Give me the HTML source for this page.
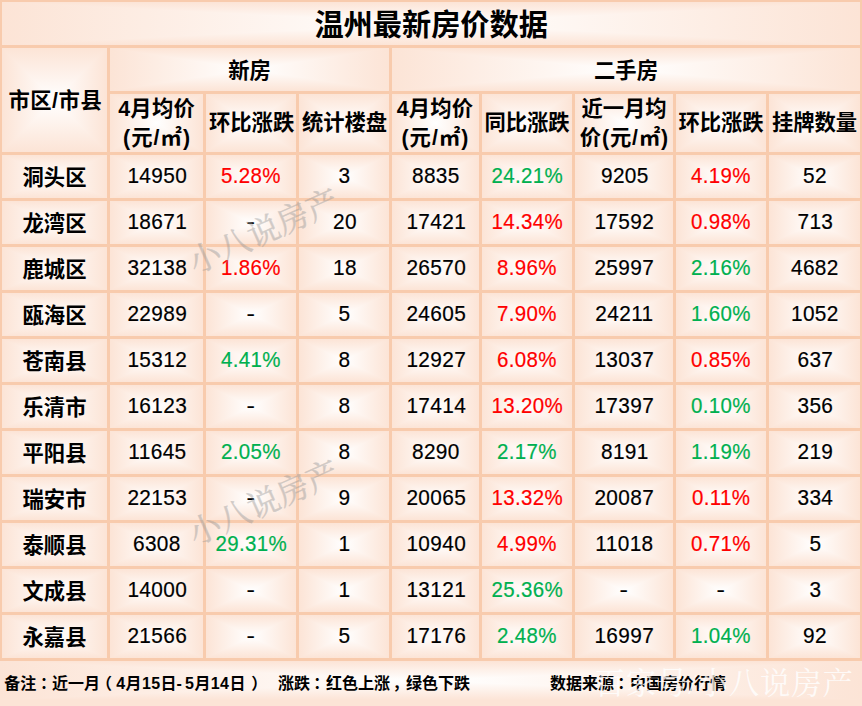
<!DOCTYPE html>
<html lang="zh-CN">
<head>
<meta charset="utf-8">
<title>温州最新房价数据</title>
<style>
html,body{margin:0;padding:0;background:#fce4d6;}
body{width:862px;height:706px;overflow:hidden;position:relative;font-family:"Liberation Sans",sans-serif;}
#sheet{position:absolute;left:0;top:0;width:862px;height:706px;overflow:hidden;background:#f8cbad;}
table{position:absolute;left:-1px;top:-1px;width:864px;border-collapse:separate;border-spacing:3px;table-layout:fixed;margin:0;}
td,th{position:relative;padding:0;height:43px;overflow:hidden;text-align:center;vertical-align:middle;white-space:nowrap;font-weight:normal;
  background:linear-gradient(to bottom,#fce4d6 0%,#fff 50%,#fce4d6 100%);}
td::before,th::before,#foot::before{content:"";position:absolute;left:0;top:0;right:0;bottom:0;
  background:linear-gradient(to right,#fce4d6 0%,#fff 50%,#fce4d6 100%);
  clip-path:polygon(0 0,50% 50%,100% 0,100% 100%,50% 50%,0 100%);}
tr.h3 th{height:58px;}
.z{color:transparent;font-size:12px;line-height:14px;}
.z span{display:block;}
.n{font-size:22.5px;line-height:30px;color:#000;-webkit-text-stroke:.2px;}
.n i{font-style:normal;position:relative;left:.6px;top:-.1px;display:inline-block;transform:scaleX(.925);letter-spacing:.4px;}
.d i{left:0;transform:scaleX(1.12);}
.r i{color:#ff0000;left:-.1px;transform:scaleX(.91);}
.g i{color:#00b050;left:-.1px;transform:scaleX(.91);}
#foot{position:absolute;left:0;top:661px;width:862px;height:45px;overflow:hidden;margin:0;
  background:linear-gradient(to bottom,#fce4d6 0,#fff 19.5px,#fce4d6 39px,#fce4d6 100%);}
#foot::before{bottom:6px;}
#foot span{position:relative;}
#ink{position:absolute;left:0;top:0;width:862px;height:706px;pointer-events:none;}
#ink text{font-family:"Liberation Sans","Noto Sans CJK SC",sans-serif;}
#ink .wm text{font-family:"Liberation Serif","Noto Serif CJK SC",serif;}
</style>
</head>
<body>
<div id="sheet">
<table>
<colgroup><col style="width:105px"><col style="width:93px"><col style="width:90px"><col style="width:90px"><col style="width:87px"><col style="width:90px"><col style="width:98px"><col style="width:90px"><col style="width:91px"></colgroup>
<thead>
<tr><th colspan="9" class="z">温州最新房价数据</th></tr>
<tr><th rowspan="2" class="z">市区/市县</th><th colspan="3" class="z">新房</th><th colspan="5" class="z">二手房</th></tr>
<tr class="h3"><th class="z"><span>4月均价</span><span>(元/㎡)</span></th><th class="z">环比涨跌</th><th class="z">统计楼盘</th><th class="z"><span>4月均价</span><span>(元/㎡)</span></th><th class="z">同比涨跌</th><th class="z"><span>近一月均</span><span>价(元/㎡)</span></th><th class="z">环比涨跌</th><th class="z">挂牌数量</th></tr>
</thead>
<tbody>
<tr><th class="z">洞头区</th><td class="n"><i>14950</i></td><td class="n r"><i>5.28%</i></td><td class="n"><i>3</i></td><td class="n"><i>8835</i></td><td class="n g"><i>24.21%</i></td><td class="n"><i>9205</i></td><td class="n r"><i>4.19%</i></td><td class="n"><i>52</i></td></tr>
<tr><th class="z">龙湾区</th><td class="n"><i>18671</i></td><td class="n d"><i>-</i></td><td class="n"><i>20</i></td><td class="n"><i>17421</i></td><td class="n r"><i>14.34%</i></td><td class="n"><i>17592</i></td><td class="n r"><i>0.98%</i></td><td class="n"><i>713</i></td></tr>
<tr><th class="z">鹿城区</th><td class="n"><i>32138</i></td><td class="n r"><i>1.86%</i></td><td class="n"><i>18</i></td><td class="n"><i>26570</i></td><td class="n r"><i>8.96%</i></td><td class="n"><i>25997</i></td><td class="n g"><i>2.16%</i></td><td class="n"><i>4682</i></td></tr>
<tr><th class="z">瓯海区</th><td class="n"><i>22989</i></td><td class="n d"><i>-</i></td><td class="n"><i>5</i></td><td class="n"><i>24605</i></td><td class="n r"><i>7.90%</i></td><td class="n"><i>24211</i></td><td class="n g"><i>1.60%</i></td><td class="n"><i>1052</i></td></tr>
<tr><th class="z">苍南县</th><td class="n"><i>15312</i></td><td class="n g"><i>4.41%</i></td><td class="n"><i>8</i></td><td class="n"><i>12927</i></td><td class="n r"><i>6.08%</i></td><td class="n"><i>13037</i></td><td class="n r"><i>0.85%</i></td><td class="n"><i>637</i></td></tr>
<tr><th class="z">乐清市</th><td class="n"><i>16123</i></td><td class="n d"><i>-</i></td><td class="n"><i>8</i></td><td class="n"><i>17414</i></td><td class="n r"><i>13.20%</i></td><td class="n"><i>17397</i></td><td class="n g"><i>0.10%</i></td><td class="n"><i>356</i></td></tr>
<tr><th class="z">平阳县</th><td class="n"><i>11645</i></td><td class="n g"><i>2.05%</i></td><td class="n"><i>8</i></td><td class="n"><i>8290</i></td><td class="n g"><i>2.17%</i></td><td class="n"><i>8191</i></td><td class="n g"><i>1.19%</i></td><td class="n"><i>219</i></td></tr>
<tr><th class="z">瑞安市</th><td class="n"><i>22153</i></td><td class="n d"><i>-</i></td><td class="n"><i>9</i></td><td class="n"><i>20065</i></td><td class="n r"><i>13.32%</i></td><td class="n"><i>20087</i></td><td class="n r"><i>0.11%</i></td><td class="n"><i>334</i></td></tr>
<tr><th class="z">泰顺县</th><td class="n"><i>6308</i></td><td class="n g"><i>29.31%</i></td><td class="n"><i>1</i></td><td class="n"><i>10940</i></td><td class="n r"><i>4.99%</i></td><td class="n"><i>11018</i></td><td class="n r"><i>0.71%</i></td><td class="n"><i>5</i></td></tr>
<tr><th class="z">文成县</th><td class="n"><i>14000</i></td><td class="n d"><i>-</i></td><td class="n"><i>1</i></td><td class="n"><i>13121</i></td><td class="n g"><i>25.36%</i></td><td class="n d"><i>-</i></td><td class="n d"><i>-</i></td><td class="n"><i>3</i></td></tr>
<tr><th class="z">永嘉县</th><td class="n"><i>21566</i></td><td class="n d"><i>-</i></td><td class="n"><i>5</i></td><td class="n"><i>17176</i></td><td class="n g"><i>2.48%</i></td><td class="n"><i>16997</i></td><td class="n g"><i>1.04%</i></td><td class="n"><i>92</i></td></tr>
</tbody>
</table>
<p id="foot" class="z"><span>备注：近一月（4月15日-5月14日）　涨跌：红色上涨，绿色下跌　数据来源：中国房价行情</span></p>
<svg id="ink" width="862" height="706" viewBox="0 0 862 706" aria-hidden="true">
<g class="wm" transform="translate(264 232) rotate(-24)" opacity="0.45"><text x="-80.25" y="10.5" font-size="32.1" fill="#9a9a9a" stroke="#9a9a9a" stroke-width="0.4">小八说房产</text></g>
<g class="wm" transform="translate(264 503.5) rotate(-24)" opacity="0.45"><text x="-80.25" y="10.5" font-size="32.1" fill="#9a9a9a" stroke="#9a9a9a" stroke-width="0.4">小八说房产</text></g>
<g fill="#000" font-weight="bold">
<text x="314.4" y="35" font-size="29.2">温州最新房价数据</text>
<g font-size="21.3">
<text x="8.38" y="107.6" textLength="93.4" lengthAdjust="spacing">市区/市县</text>
<text x="228.2" y="78.2">新房</text>
<text x="594.05" y="78.2">二手房</text>
<text x="118.27" y="116.3" textLength="76.5" lengthAdjust="spacing">4月均价</text>
<text x="209" y="130.2">环比涨跌</text>
<text x="301.9" y="130.2">统计楼盘</text>
<text x="396.67" y="116.3" textLength="76.5" lengthAdjust="spacing">4月均价</text>
<text x="484.4" y="130.2">同比涨跌</text>
<text x="581.4" y="116.3">近一月均</text>
<text x="678.4" y="130.2">环比涨跌</text>
<text x="771.9" y="130.2">挂牌数量</text>
<text x="123" y="145.3" textLength="67" lengthAdjust="spacing">(元/㎡)</text>
<text x="401.4" y="145.3" textLength="67" lengthAdjust="spacing">(元/㎡)</text>
<text x="579.85" y="145.3" textLength="88.3" lengthAdjust="spacing">价(元/㎡)</text>
<text x="22.55" y="184.9">洞头区</text>
<text x="22.55" y="230.9">龙湾区</text>
<text x="22.55" y="276.9">鹿城区</text>
<text x="22.55" y="322.9">瓯海区</text>
<text x="22.55" y="368.9">苍南县</text>
<text x="22.55" y="414.9">乐清市</text>
<text x="22.55" y="460.9">平阳县</text>
<text x="22.55" y="506.9">瑞安市</text>
<text x="22.55" y="552.9">泰顺县</text>
<text x="22.55" y="598.9">文成县</text>
<text x="22.55" y="644.9">永嘉县</text>
</g>
<g font-size="16">
<text x="4.2" y="689.3">备注</text>
<text x="40.1" y="689.3">：</text>
<text x="52" y="689.3">近一月</text>
<text x="96.06" y="689.3">（</text>
<text x="116.2" y="689.3" textLength="60.3" lengthAdjust="spacing">4月15日</text>
<text x="176.59" y="689.3">-</text>
<text x="185.1" y="689.3" textLength="60.3" lengthAdjust="spacing">5月14日</text>
<text x="251.14" y="689.3">）</text>
<text x="278" y="689.3">涨跌</text>
<text x="313.2" y="689.3">：</text>
<text x="326" y="689.3">红色上涨</text>
<text x="392.4" y="689.3">，</text>
<text x="406" y="689.3">绿色下跌</text>
<text x="550" y="689.3">数据来源</text>
<text x="617.2" y="689.3">：</text>
<text x="630" y="689.3">中国房价行情</text>
</g>
</g>
<g class="wm" opacity="0.8"><text x="594.5" y="693.5" font-size="30.4" fill="#fff" textLength="258.4" lengthAdjust="spacing">百家号/小八说房产</text></g>
</svg>
</div>
</body>
</html>
